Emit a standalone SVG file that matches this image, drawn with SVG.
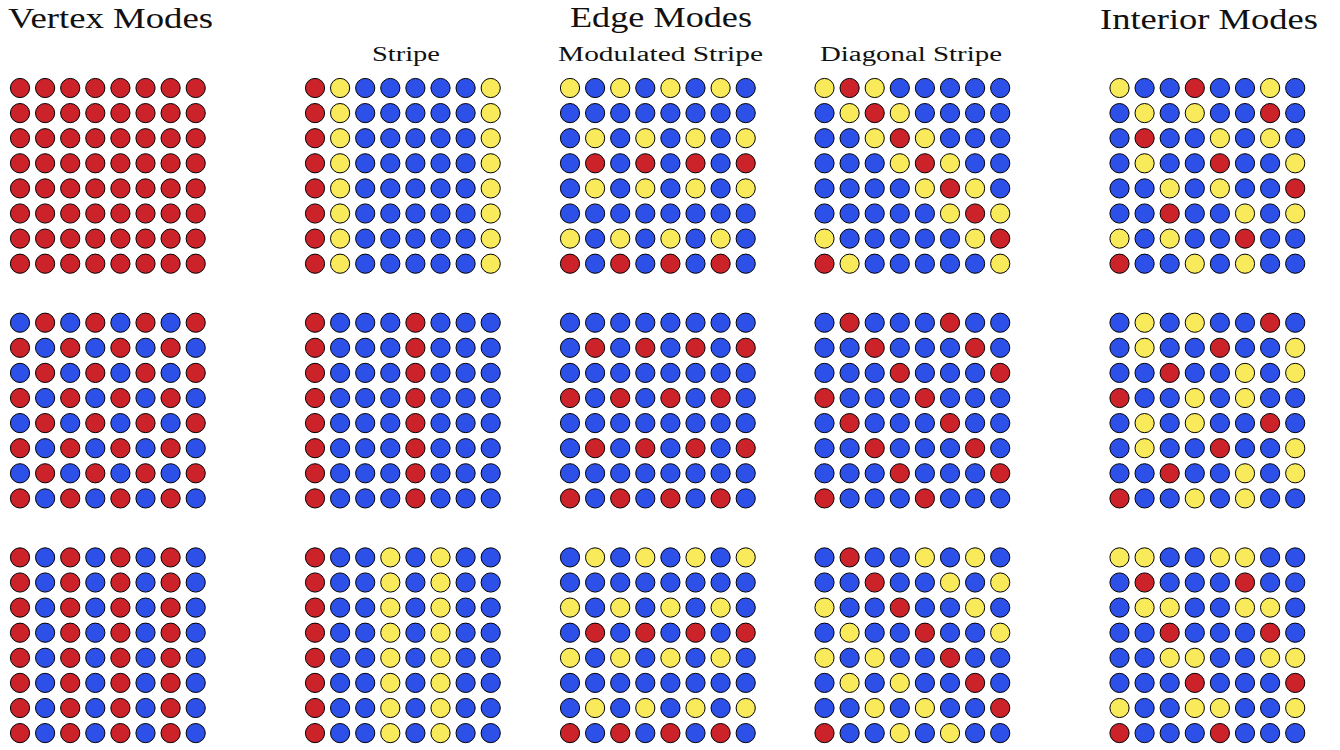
<svg xmlns="http://www.w3.org/2000/svg" width="1340" height="750" viewBox="0 0 1340 750">
<style>
.r{fill:#cc2229}.b{fill:#2c50e8}.y{fill:#f8ea5a}
circle{stroke:#000;stroke-width:1}
.title{font-family:"Liberation Serif","DejaVu Serif",serif;font-size:30px;fill:#111}
.sub{font-family:"Liberation Serif","DejaVu Serif",serif;font-size:20px;fill:#111}
</style>
<defs>
<circle id="R" r="9.6" class="r"/>
<circle id="B" r="9.6" class="b"/>
<circle id="Y" r="9.6" class="y"/>
<g id="RRRRRRRR"><use href="#R"/><use href="#R" x="25.1"/><use href="#R" x="50.2"/><use href="#R" x="75.3"/><use href="#R" x="100.4"/><use href="#R" x="125.5"/><use href="#R" x="150.6"/><use href="#R" x="175.7"/></g>
<g id="BRBRBRBR"><use href="#B"/><use href="#R" x="25.1"/><use href="#B" x="50.2"/><use href="#R" x="75.3"/><use href="#B" x="100.4"/><use href="#R" x="125.5"/><use href="#B" x="150.6"/><use href="#R" x="175.7"/></g>
<g id="RBRBRBRB"><use href="#R"/><use href="#B" x="25.1"/><use href="#R" x="50.2"/><use href="#B" x="75.3"/><use href="#R" x="100.4"/><use href="#B" x="125.5"/><use href="#R" x="150.6"/><use href="#B" x="175.7"/></g>
<g id="RYBBBBBY"><use href="#R"/><use href="#Y" x="25.1"/><use href="#B" x="50.2"/><use href="#B" x="75.3"/><use href="#B" x="100.4"/><use href="#B" x="125.5"/><use href="#B" x="150.6"/><use href="#Y" x="175.7"/></g>
<g id="RBBBRBBB"><use href="#R"/><use href="#B" x="25.1"/><use href="#B" x="50.2"/><use href="#B" x="75.3"/><use href="#R" x="100.4"/><use href="#B" x="125.5"/><use href="#B" x="150.6"/><use href="#B" x="175.7"/></g>
<g id="RBBYBYBB"><use href="#R"/><use href="#B" x="25.1"/><use href="#B" x="50.2"/><use href="#Y" x="75.3"/><use href="#B" x="100.4"/><use href="#Y" x="125.5"/><use href="#B" x="150.6"/><use href="#B" x="175.7"/></g>
<g id="YBYBYBYB"><use href="#Y"/><use href="#B" x="25.1"/><use href="#Y" x="50.2"/><use href="#B" x="75.3"/><use href="#Y" x="100.4"/><use href="#B" x="125.5"/><use href="#Y" x="150.6"/><use href="#B" x="175.7"/></g>
<g id="BBBBBBBB"><use href="#B"/><use href="#B" x="25.1"/><use href="#B" x="50.2"/><use href="#B" x="75.3"/><use href="#B" x="100.4"/><use href="#B" x="125.5"/><use href="#B" x="150.6"/><use href="#B" x="175.7"/></g>
<g id="BYBYBYBY"><use href="#B"/><use href="#Y" x="25.1"/><use href="#B" x="50.2"/><use href="#Y" x="75.3"/><use href="#B" x="100.4"/><use href="#Y" x="125.5"/><use href="#B" x="150.6"/><use href="#Y" x="175.7"/></g>
<g id="YRYBBBBB"><use href="#Y"/><use href="#R" x="25.1"/><use href="#Y" x="50.2"/><use href="#B" x="75.3"/><use href="#B" x="100.4"/><use href="#B" x="125.5"/><use href="#B" x="150.6"/><use href="#B" x="175.7"/></g>
<g id="BYRYBBBB"><use href="#B"/><use href="#Y" x="25.1"/><use href="#R" x="50.2"/><use href="#Y" x="75.3"/><use href="#B" x="100.4"/><use href="#B" x="125.5"/><use href="#B" x="150.6"/><use href="#B" x="175.7"/></g>
<g id="BBYRYBBB"><use href="#B"/><use href="#B" x="25.1"/><use href="#Y" x="50.2"/><use href="#R" x="75.3"/><use href="#Y" x="100.4"/><use href="#B" x="125.5"/><use href="#B" x="150.6"/><use href="#B" x="175.7"/></g>
<g id="BBBYRYBB"><use href="#B"/><use href="#B" x="25.1"/><use href="#B" x="50.2"/><use href="#Y" x="75.3"/><use href="#R" x="100.4"/><use href="#Y" x="125.5"/><use href="#B" x="150.6"/><use href="#B" x="175.7"/></g>
<g id="BBBBYRYB"><use href="#B"/><use href="#B" x="25.1"/><use href="#B" x="50.2"/><use href="#B" x="75.3"/><use href="#Y" x="100.4"/><use href="#R" x="125.5"/><use href="#Y" x="150.6"/><use href="#B" x="175.7"/></g>
<g id="BBBBBYRY"><use href="#B"/><use href="#B" x="25.1"/><use href="#B" x="50.2"/><use href="#B" x="75.3"/><use href="#B" x="100.4"/><use href="#Y" x="125.5"/><use href="#R" x="150.6"/><use href="#Y" x="175.7"/></g>
<g id="YBBBBBYR"><use href="#Y"/><use href="#B" x="25.1"/><use href="#B" x="50.2"/><use href="#B" x="75.3"/><use href="#B" x="100.4"/><use href="#B" x="125.5"/><use href="#Y" x="150.6"/><use href="#R" x="175.7"/></g>
<g id="BRBBBRBB"><use href="#B"/><use href="#R" x="25.1"/><use href="#B" x="50.2"/><use href="#B" x="75.3"/><use href="#B" x="100.4"/><use href="#R" x="125.5"/><use href="#B" x="150.6"/><use href="#B" x="175.7"/></g>
<g id="BBRBBBRB"><use href="#B"/><use href="#B" x="25.1"/><use href="#R" x="50.2"/><use href="#B" x="75.3"/><use href="#B" x="100.4"/><use href="#B" x="125.5"/><use href="#R" x="150.6"/><use href="#B" x="175.7"/></g>
<g id="BBBRBBBR"><use href="#B"/><use href="#B" x="25.1"/><use href="#B" x="50.2"/><use href="#R" x="75.3"/><use href="#B" x="100.4"/><use href="#B" x="125.5"/><use href="#B" x="150.6"/><use href="#R" x="175.7"/></g>
<g id="BRBBYBYB"><use href="#B"/><use href="#R" x="25.1"/><use href="#B" x="50.2"/><use href="#B" x="75.3"/><use href="#Y" x="100.4"/><use href="#B" x="125.5"/><use href="#Y" x="150.6"/><use href="#B" x="175.7"/></g>
<g id="BBRBBYBY"><use href="#B"/><use href="#B" x="25.1"/><use href="#R" x="50.2"/><use href="#B" x="75.3"/><use href="#B" x="100.4"/><use href="#Y" x="125.5"/><use href="#B" x="150.6"/><use href="#Y" x="175.7"/></g>
<g id="YBBRBBYB"><use href="#Y"/><use href="#B" x="25.1"/><use href="#B" x="50.2"/><use href="#R" x="75.3"/><use href="#B" x="100.4"/><use href="#B" x="125.5"/><use href="#Y" x="150.6"/><use href="#B" x="175.7"/></g>
<g id="BYBBRBBY"><use href="#B"/><use href="#Y" x="25.1"/><use href="#B" x="50.2"/><use href="#B" x="75.3"/><use href="#R" x="100.4"/><use href="#B" x="125.5"/><use href="#B" x="150.6"/><use href="#Y" x="175.7"/></g>
<g id="YBYBBRBB"><use href="#Y"/><use href="#B" x="25.1"/><use href="#Y" x="50.2"/><use href="#B" x="75.3"/><use href="#B" x="100.4"/><use href="#R" x="125.5"/><use href="#B" x="150.6"/><use href="#B" x="175.7"/></g>
<g id="BYBYBBRB"><use href="#B"/><use href="#Y" x="25.1"/><use href="#B" x="50.2"/><use href="#Y" x="75.3"/><use href="#B" x="100.4"/><use href="#B" x="125.5"/><use href="#R" x="150.6"/><use href="#B" x="175.7"/></g>
<g id="BBYBYBBR"><use href="#B"/><use href="#B" x="25.1"/><use href="#Y" x="50.2"/><use href="#B" x="75.3"/><use href="#Y" x="100.4"/><use href="#B" x="125.5"/><use href="#B" x="150.6"/><use href="#R" x="175.7"/></g>
<g id="YYBBYYBB"><use href="#Y"/><use href="#Y" x="25.1"/><use href="#B" x="50.2"/><use href="#B" x="75.3"/><use href="#Y" x="100.4"/><use href="#Y" x="125.5"/><use href="#B" x="150.6"/><use href="#B" x="175.7"/></g>
<g id="BYYBBYYB"><use href="#B"/><use href="#Y" x="25.1"/><use href="#Y" x="50.2"/><use href="#B" x="75.3"/><use href="#B" x="100.4"/><use href="#Y" x="125.5"/><use href="#Y" x="150.6"/><use href="#B" x="175.7"/></g>
<g id="BBYYBBYY"><use href="#B"/><use href="#B" x="25.1"/><use href="#Y" x="50.2"/><use href="#Y" x="75.3"/><use href="#B" x="100.4"/><use href="#B" x="125.5"/><use href="#Y" x="150.6"/><use href="#Y" x="175.7"/></g>
<g id="YBBYYBBY"><use href="#Y"/><use href="#B" x="25.1"/><use href="#B" x="50.2"/><use href="#Y" x="75.3"/><use href="#Y" x="100.4"/><use href="#B" x="125.5"/><use href="#B" x="150.6"/><use href="#Y" x="175.7"/></g>
</defs>
<rect width="1340" height="750" fill="#fff"/>
<g id="titles">
<text class="title" x="8" y="28" textLength="205" lengthAdjust="spacingAndGlyphs">Vertex Modes</text>
<text class="title" x="570" y="27" textLength="182" lengthAdjust="spacingAndGlyphs">Edge Modes</text>
<text class="title" x="1100" y="29" textLength="218" lengthAdjust="spacingAndGlyphs">Interior Modes</text>
<text class="sub" x="372" y="61" textLength="68" lengthAdjust="spacingAndGlyphs">Stripe</text>
<text class="sub" x="558" y="61" textLength="205" lengthAdjust="spacingAndGlyphs">Modulated Stripe</text>
<text class="sub" x="820" y="61" textLength="182" lengthAdjust="spacingAndGlyphs">Diagonal Stripe</text>
</g>
<g id="connectors"/>
<g id="vertex-1" transform="translate(20,88)">
<use href="#RRRRRRRR"/><use href="#RRRRRRRR" y="25.1"/><use href="#RRRRRRRR" y="50.2"/><use href="#RRRRRRRR" y="75.3"/><use href="#RRRRRRRR" y="100.4"/><use href="#RRRRRRRR" y="125.5"/><use href="#RRRRRRRR" y="150.6"/><use href="#RRRRRRRR" y="175.7"/>
</g>
<g id="vertex-2" transform="translate(20,322.7)">
<use href="#BRBRBRBR"/><use href="#RBRBRBRB" y="25.1"/><use href="#BRBRBRBR" y="50.2"/><use href="#RBRBRBRB" y="75.3"/><use href="#BRBRBRBR" y="100.4"/><use href="#RBRBRBRB" y="125.5"/><use href="#BRBRBRBR" y="150.6"/><use href="#RBRBRBRB" y="175.7"/>
</g>
<g id="vertex-3" transform="translate(20,557.4)">
<use href="#RBRBRBRB"/><use href="#RBRBRBRB" y="25.1"/><use href="#RBRBRBRB" y="50.2"/><use href="#RBRBRBRB" y="75.3"/><use href="#RBRBRBRB" y="100.4"/><use href="#RBRBRBRB" y="125.5"/><use href="#RBRBRBRB" y="150.6"/><use href="#RBRBRBRB" y="175.7"/>
</g>
<g id="stripe-1" transform="translate(315,88)">
<use href="#RYBBBBBY"/><use href="#RYBBBBBY" y="25.1"/><use href="#RYBBBBBY" y="50.2"/><use href="#RYBBBBBY" y="75.3"/><use href="#RYBBBBBY" y="100.4"/><use href="#RYBBBBBY" y="125.5"/><use href="#RYBBBBBY" y="150.6"/><use href="#RYBBBBBY" y="175.7"/>
</g>
<g id="stripe-2" transform="translate(315,322.7)">
<use href="#RBBBRBBB"/><use href="#RBBBRBBB" y="25.1"/><use href="#RBBBRBBB" y="50.2"/><use href="#RBBBRBBB" y="75.3"/><use href="#RBBBRBBB" y="100.4"/><use href="#RBBBRBBB" y="125.5"/><use href="#RBBBRBBB" y="150.6"/><use href="#RBBBRBBB" y="175.7"/>
</g>
<g id="stripe-3" transform="translate(315,557.4)">
<use href="#RBBYBYBB"/><use href="#RBBYBYBB" y="25.1"/><use href="#RBBYBYBB" y="50.2"/><use href="#RBBYBYBB" y="75.3"/><use href="#RBBYBYBB" y="100.4"/><use href="#RBBYBYBB" y="125.5"/><use href="#RBBYBYBB" y="150.6"/><use href="#RBBYBYBB" y="175.7"/>
</g>
<g id="modulated-1" transform="translate(570,88)">
<use href="#YBYBYBYB"/><use href="#BBBBBBBB" y="25.1"/><use href="#BYBYBYBY" y="50.2"/><use href="#BRBRBRBR" y="75.3"/><use href="#BYBYBYBY" y="100.4"/><use href="#BBBBBBBB" y="125.5"/><use href="#YBYBYBYB" y="150.6"/><use href="#RBRBRBRB" y="175.7"/>
</g>
<g id="modulated-2" transform="translate(570,322.7)">
<use href="#BBBBBBBB"/><use href="#BRBRBRBR" y="25.1"/><use href="#BBBBBBBB" y="50.2"/><use href="#RBRBRBRB" y="75.3"/><use href="#BBBBBBBB" y="100.4"/><use href="#BRBRBRBR" y="125.5"/><use href="#BBBBBBBB" y="150.6"/><use href="#RBRBRBRB" y="175.7"/>
</g>
<g id="modulated-3" transform="translate(570,557.4)">
<use href="#BYBYBYBY"/><use href="#BBBBBBBB" y="25.1"/><use href="#YBYBYBYB" y="50.2"/><use href="#BRBRBRBR" y="75.3"/><use href="#YBYBYBYB" y="100.4"/><use href="#BBBBBBBB" y="125.5"/><use href="#BYBYBYBY" y="150.6"/><use href="#RBRBRBRB" y="175.7"/>
</g>
<g id="diagonal-1" transform="translate(824.5,88)">
<use href="#YRYBBBBB"/><use href="#BYRYBBBB" y="25.1"/><use href="#BBYRYBBB" y="50.2"/><use href="#BBBYRYBB" y="75.3"/><use href="#BBBBYRYB" y="100.4"/><use href="#BBBBBYRY" y="125.5"/><use href="#YBBBBBYR" y="150.6"/><use href="#RYBBBBBY" y="175.7"/>
</g>
<g id="diagonal-2" transform="translate(824.5,322.7)">
<use href="#BRBBBRBB"/><use href="#BBRBBBRB" y="25.1"/><use href="#BBBRBBBR" y="50.2"/><use href="#RBBBRBBB" y="75.3"/><use href="#BRBBBRBB" y="100.4"/><use href="#BBRBBBRB" y="125.5"/><use href="#BBBRBBBR" y="150.6"/><use href="#RBBBRBBB" y="175.7"/>
</g>
<g id="diagonal-3" transform="translate(824.5,557.4)">
<use href="#BRBBYBYB"/><use href="#BBRBBYBY" y="25.1"/><use href="#YBBRBBYB" y="50.2"/><use href="#BYBBRBBY" y="75.3"/><use href="#YBYBBRBB" y="100.4"/><use href="#BYBYBBRB" y="125.5"/><use href="#BBYBYBBR" y="150.6"/><use href="#RBBYBYBB" y="175.7"/>
</g>
<g id="interior-1" transform="translate(1119.5,88)">
<use href="#YBBRBBYB"/><use href="#BYBYBBRB" y="25.1"/><use href="#BRBBYBYB" y="50.2"/><use href="#BYBBRBBY" y="75.3"/><use href="#BBYBYBBR" y="100.4"/><use href="#BBRBBYBY" y="125.5"/><use href="#YBYBBRBB" y="150.6"/><use href="#RBBYBYBB" y="175.7"/>
</g>
<g id="interior-2" transform="translate(1119.5,322.7)">
<use href="#BYBYBBRB"/><use href="#BYBBRBBY" y="25.1"/><use href="#BBRBBYBY" y="50.2"/><use href="#RBBYBYBB" y="75.3"/><use href="#BYBYBBRB" y="100.4"/><use href="#BYBBRBBY" y="125.5"/><use href="#BBRBBYBY" y="150.6"/><use href="#RBBYBYBB" y="175.7"/>
</g>
<g id="interior-3" transform="translate(1119.5,557.4)">
<use href="#YYBBYYBB"/><use href="#BRBBBRBB" y="25.1"/><use href="#BYYBBYYB" y="50.2"/><use href="#BBRBBBRB" y="75.3"/><use href="#BBYYBBYY" y="100.4"/><use href="#BBBRBBBR" y="125.5"/><use href="#YBBYYBBY" y="150.6"/><use href="#RBBBRBBB" y="175.7"/>
</g>
</svg>
